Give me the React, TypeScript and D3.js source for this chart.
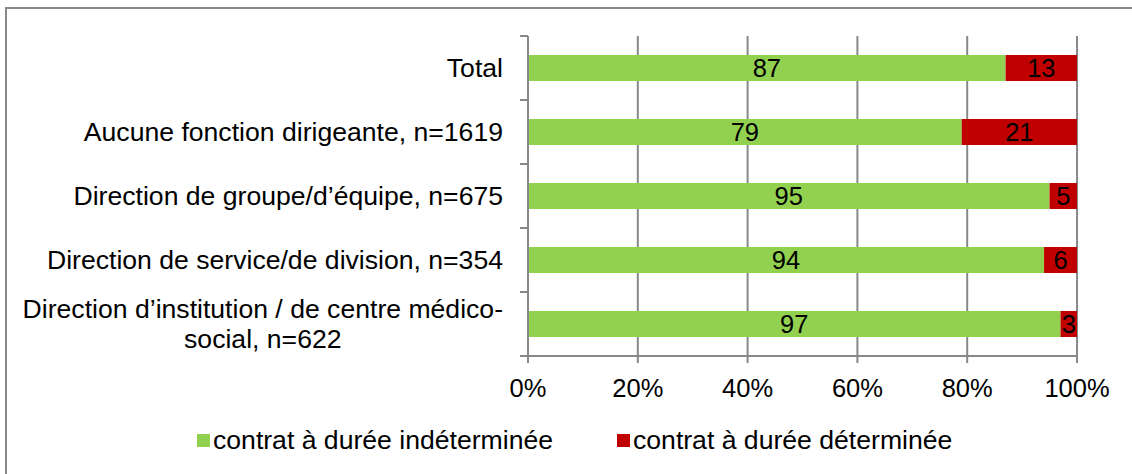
import React, { useEffect, useRef } from "react";
import * as d3 from "d3";

const categories = [
  "Total",
  "Aucune fonction dirigeante, n=1619",
  "Direction de groupe/d\u2019équipe, n=675",
  "Direction de service/de division, n=354",
  "Direction d\u2019institution / de centre médico-\nsocial, n=622",
];
const cdiValues = [87, 79, 95, 94, 97];
const cddValues = [13, 21, 5, 6, 3];
const seriesNames = ["contrat à durée indéterminée", "contrat à durée déterminée"];
const seriesColors = ["#92D050", "#C00000"];
const xTicks = [0, 20, 40, 60, 80, 100];

const W = 1132;
const H = 474;
const FONT = "'Liberation Sans', Arial, sans-serif";
const FS = 26.6;
const FS_TICK = 25.5;
const GRID = "#888888";

export default function App() {
  const ref = useRef<SVGSVGElement | null>(null);

  useEffect(() => {
    const svg = d3.select(ref.current);
    svg.selectAll("*").remove();

    // frame
    svg.append("rect")
      .attr("x", 6).attr("y", 8).attr("width", W + 20).attr("height", H + 20)
      .attr("fill", "#fff").attr("stroke", "#8a8a8a").attr("stroke-width", 2);

    const x = d3.scaleLinear().domain([0, 100]).range([528, 1077]);
    const y = d3.scaleBand<string>().domain(categories).range([36, 356])
      .paddingInner(0.594).paddingOuter(0.297);
    const step = y.step();
    const bandTop = (c: string) => (y(c) as number) - y.paddingOuter() * step;

    const g = svg.append("g");

    // vertical gridlines
    xTicks.filter((t) => t > 0).forEach((t) => {
      g.append("line")
        .attr("x1", x(t)).attr("x2", x(t)).attr("y1", 36).attr("y2", 356)
        .attr("stroke", GRID).attr("stroke-width", 2);
    });

    // bars
    const stacked = categories.map((c, i) => ({ c, v: [cdiValues[i], cddValues[i]] }));
    stacked.forEach((d) => {
      let acc = 0;
      d.v.forEach((v, si) => {
        g.append("rect")
          .attr("x", x(acc)).attr("y", y(d.c) as number)
          .attr("width", x(acc + v) - x(acc)).attr("height", y.bandwidth())
          .attr("fill", seriesColors[si]);
        g.append("text")
          .attr("x", (x(acc) + x(acc + v)) / 2)
          .attr("y", (y(d.c) as number) + y.bandwidth() / 2 + 9)
          .attr("text-anchor", "middle")
          .attr("font-family", FONT).attr("font-size", FS_TICK).attr("fill", "#000")
          .text(String(v));
        acc += v;
      });
    });

    // y axis line
    g.append("line").attr("x1", x(0)).attr("x2", x(0)).attr("y1", 36).attr("y2", 356)
      .attr("stroke", GRID).attr("stroke-width", 2);
    // category ticks
    const bounds = categories.map(bandTop).concat([356]);
    bounds.forEach((b) => {
      g.append("line").attr("x1", 520).attr("x2", x(0)).attr("y1", b).attr("y2", b)
        .attr("stroke", GRID).attr("stroke-width", 2);
    });
    // x axis line
    g.append("line").attr("x1", 520).attr("x2", x(100)).attr("y1", 356).attr("y2", 356)
      .attr("stroke", GRID).attr("stroke-width", 2);
    xTicks.forEach((t) => {
      g.append("line").attr("x1", x(t)).attr("x2", x(t)).attr("y1", 356).attr("y2", 363)
        .attr("stroke", GRID).attr("stroke-width", 2);
      g.append("text")
        .attr("x", x(t)).attr("y", 397).attr("text-anchor", "middle")
        .attr("font-family", FONT).attr("font-size", FS_TICK).attr("fill", "#000")
        .text(t + "%");
    });

    // category labels
    categories.forEach((c) => {
      const cy = (y(c) as number) + y.bandwidth() / 2;
      const lines = c.split("\n");
      if (lines.length === 1) {
        g.append("text").attr("x", 503).attr("y", cy + 9).attr("text-anchor", "end")
          .attr("font-family", FONT).attr("font-size", FS).attr("fill", "#000")
          .text(c);
      } else {
        const t1 = g.append("text").attr("x", 503).attr("y", cy - 15 + 9).attr("text-anchor", "end")
          .attr("font-family", FONT).attr("font-size", FS).attr("fill", "#000")
          .text(lines[0]);
        const w1 = (t1.node() as SVGTextElement).getComputedTextLength();
        g.append("text").attr("x", 503 - w1 / 2).attr("y", cy + 15 + 9).attr("text-anchor", "middle")
          .attr("font-family", FONT).attr("font-size", FS).attr("fill", "#000")
          .text(lines[1]);
      }
    });

    // legend
    const legendX = [197, 617];
    seriesNames.forEach((s, i) => {
      g.append("rect").attr("x", legendX[i]).attr("y", 434).attr("width", 13).attr("height", 13)
        .attr("fill", seriesColors[i]);
      g.append("text").attr("x", legendX[i] + 16).attr("y", 449)
        .attr("font-family", FONT).attr("font-size", FS).attr("fill", "#000")
        .text(s);
    });
  }, []);

  return (
    <svg
      ref={ref}
      width={W}
      height={H}
      style={{ position: "absolute", left: 0, top: 0, background: "#fff" }}
    />
  );
}
